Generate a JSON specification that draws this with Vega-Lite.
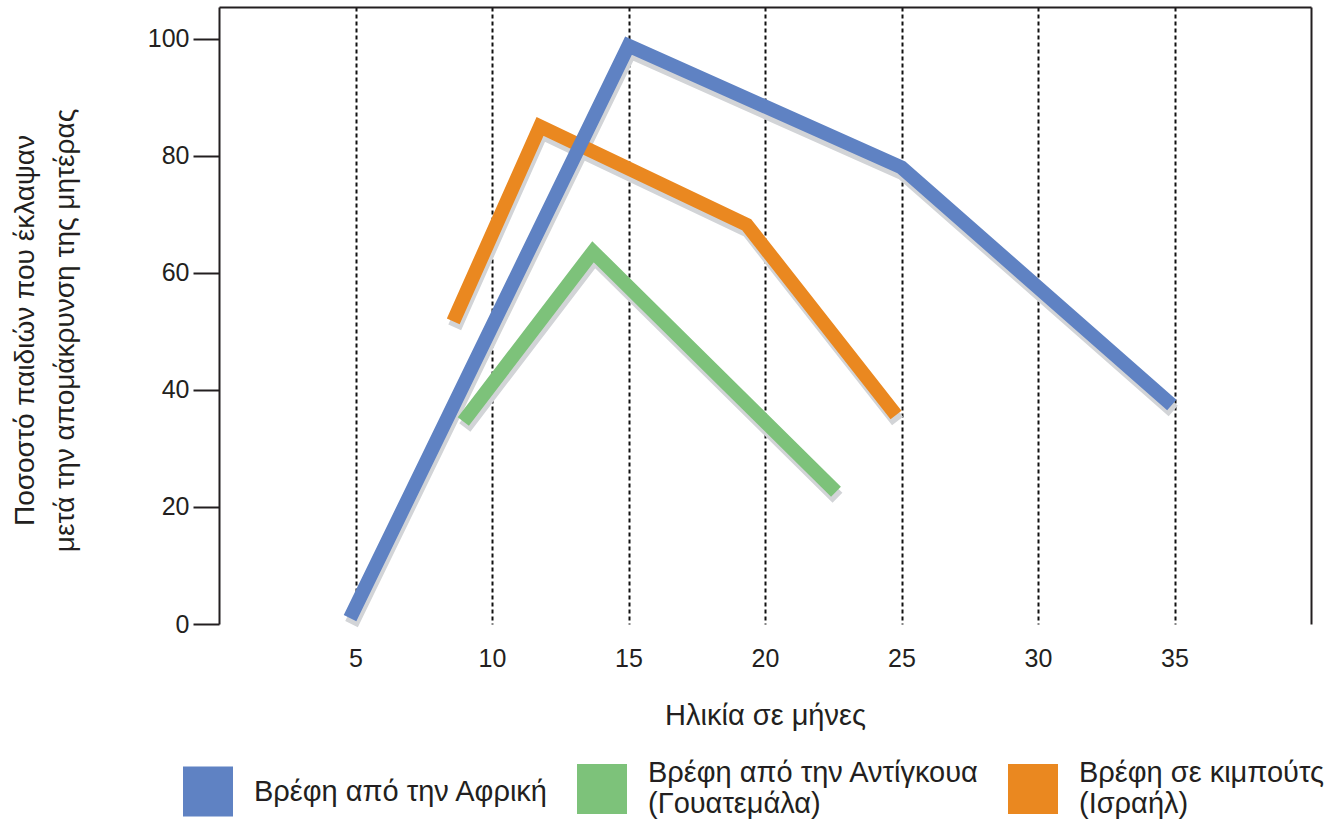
{
  "$schema": "https://vega.github.io/schema/vega-lite/v6.json",
  "autosize": {"type": "none"},
  "width": 1092,
  "height": 617,
  "padding": {"left": 219, "top": 7, "right": 32, "bottom": 200},
  "background": "white",
  "config": {
    "view": {"stroke": null},
    "font": "Liberation Sans",
    "axis": {"labelColor": "#231f20", "titleColor": "#231f20", "titleFontWeight": "normal", "labelFont": "Liberation Sans", "titleFont": "Liberation Sans"},
    "legend": {"labelColor": "#231f20", "labelFont": "Liberation Sans"}
  },
  "data": {
    "values": [
      {"group": "Βρέφη σε κιμπούτς|(Ισραήλ)", "month": 8.58, "pct": 51.7},
      {"group": "Βρέφη σε κιμπούτς|(Ισραήλ)", "month": 11.76, "pct": 85.0},
      {"group": "Βρέφη σε κιμπούτς|(Ισραήλ)", "month": 19.33, "pct": 68.2},
      {"group": "Βρέφη σε κιμπούτς|(Ισραήλ)", "month": 24.8, "pct": 35.7},
      {"group": "Βρέφη από την Αντίγκουα|(Γουατεμάλα)", "month": 8.95, "pct": 34.6},
      {"group": "Βρέφη από την Αντίγκουα|(Γουατεμάλα)", "month": 13.7, "pct": 63.6},
      {"group": "Βρέφη από την Αντίγκουα|(Γουατεμάλα)", "month": 22.6, "pct": 22.6},
      {"group": "Βρέφη από την Αφρική", "month": 4.8, "pct": 1.0},
      {"group": "Βρέφη από την Αφρική", "month": 15.0, "pct": 98.8},
      {"group": "Βρέφη από την Αφρική", "month": 25.0, "pct": 78.0},
      {"group": "Βρέφη από την Αφρική", "month": 34.9, "pct": 37.4}
    ]
  },
  "layer": [
    {
      "mark": {"type": "line", "color": "#d2d4d7", "strokeWidth": 14, "strokeJoin": "miter", "strokeCap": "butt", "xOffset": 1.5, "yOffset": 6},
      "encoding": {
        "x": {"field": "month", "type": "quantitative", "scale": {"domain": [0, 40], "nice": false, "zero": false},
          "axis": {"orient": "top", "domain": true, "domainWidth": 2, "domainColor": "#231f20", "ticks": false, "labels": false, "grid": false, "title": null}},
        "y": {"field": "pct", "type": "quantitative", "scale": {"domain": [0, 105.4], "nice": false},
          "axis": {"orient": "right", "domain": true, "domainWidth": 2, "domainColor": "#231f20", "ticks": false, "labels": false, "grid": false, "title": null}},
        "detail": {"field": "group", "type": "nominal"}
      }
    },
    {
      "mark": {"type": "line", "strokeWidth": 14, "strokeJoin": "miter", "strokeCap": "butt"},
      "encoding": {
        "x": {"field": "month", "type": "quantitative", "scale": {"domain": [0, 40], "nice": false, "zero": false},
          "axis": {"orient": "bottom", "values": [5, 10, 15, 20, 25, 30, 35], "domain": false, "ticks": false,
            "grid": true, "gridColor": "#111111", "gridWidth": 2, "gridDash": [4, 3],
            "labelFontSize": 25, "labelPadding": 22, "labelFlush": false,
            "title": "Ηλικία σε μήνες", "titleFontSize": 29, "titlePadding": 30}},
        "y": {"field": "pct", "type": "quantitative", "scale": {"domain": [0, 105.4], "nice": false},
          "axis": {"orient": "left", "values": [0, 20, 40, 60, 80, 100], "grid": false, "domain": true, "domainWidth": 2, "domainColor": "#231f20",
            "ticks": true, "tickSize": 26, "tickWidth": 2, "tickColor": "#231f20",
            "labelFontSize": 25, "labelPadding": 4, "labelFlush": false,
            "title": ["Ποσοστό παιδιών που έκλαψαν", "μετά την απομάκρυνση της μητέρας"], "titleFontSize": 28, "titleLineHeight": 40, "titlePadding": 68, "titleY": 323}},
        "color": {"field": "group", "type": "nominal",
          "scale": {"domain": ["Βρέφη από την Αφρική", "Βρέφη από την Αντίγκουα|(Γουατεμάλα)", "Βρέφη σε κιμπούτς|(Ισραήλ)"], "range": ["#5f82c3", "#7dc27a", "#ea8820"]},
          "legend": {"orient": "none", "legendX": -36, "legendY": 757, "direction": "horizontal", "title": null,
            "symbolType": "square", "symbolSize": 2500, "symbolStrokeWidth": 0, "symbolOpacity": 1,
            "labelFontSize": 29, "labelOffset": 21, "columnPadding": 28, "labelLimit": 400,
            "labelExpr": "split(datum.label, '|')",
            "encode": {
              "symbols": {"update": {"fill": {"scale": "color", "field": "value"}, "fillOpacity": {"value": 1}, "strokeWidth": {"value": 0}}},
              "labels": {"update": {"dy": {"signal": "indexof(datum.label, '|') >= 0 ? -16 : 0"}}}
            }}}
      }
    }
  ],
  "resolve": {"axis": {"x": "independent", "y": "independent"}}
}
